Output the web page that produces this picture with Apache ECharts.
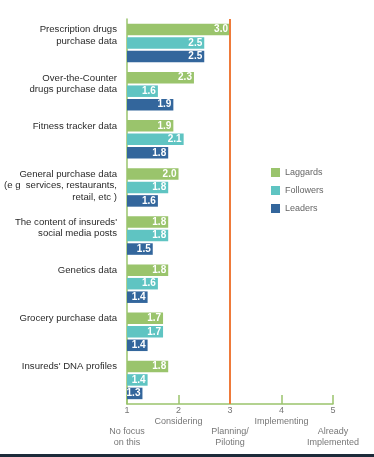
<!DOCTYPE html>
<html>
<head>
<meta charset="utf-8">
<script src="https://cdn.jsdelivr.net/npm/echarts@6/dist/echarts.min.js"></script>
<style>
html,body{margin:0;padding:0;background:#fff;}
#c{width:374px;height:457px;}
</style>
</head>
<body>
<div id="c"></div>
<script>
const categories = [
  'Prescription drugs\npurchase data',
  'Over-the-Counter\ndrugs purchase data',
  'Fitness tracker data',
  'General purchase data\n(e g  services, restaurants,\nretail, etc )',
  "The content of insureds'\nsocial media posts",
  'Genetics data',
  'Grocery purchase data',
  "Insureds' DNA profiles"
];
const laggards  = [3.0, 2.3, 1.9, 2.0, 1.8, 1.8, 1.7, 1.8];
const followers = [2.5, 1.6, 2.1, 1.8, 1.8, 1.6, 1.7, 1.4];
const leaders   = [2.5, 1.9, 1.8, 1.6, 1.5, 1.4, 1.4, 1.3];
const stageNames = ['No focus\non this', 'Considering', 'Planning/\nPiloting', 'Implementing', 'Already\nImplemented'];
const threshold = 3;

const GREEN = '#9ac46c', TEAL = '#5fc4c2', BLUE = '#33669c', ORANGE = '#ee7a3a';

const chart = echarts.init(document.getElementById('c'), null, {renderer: 'canvas'});

function valueLabel() {
  return {
    show: true, position: 'insideRight', distance: 2,
    color: '#fff', fontWeight: 'bold', fontSize: 10,
    fontFamily: 'Liberation Sans, Arial, sans-serif',
    formatter: p => p.value.toFixed(1)
  };
}

const xBase = {type: 'value', min: 1, max: 5, interval: 1, splitLine: {show: false}};

chart.setOption({
  animation: false,
  textStyle: {fontFamily: 'Liberation Sans, Arial, sans-serif'},
  grid: {left: 127, right: 41, top: 19, bottom: 53, containLabel: false, outerBoundsMode: 'none'},
  legend: {
    orient: 'vertical', left: 266, top: 163,
    itemWidth: 9, itemHeight: 9, itemGap: 9, icon: 'rect',
    textStyle: {fontSize: 9, color: '#666'},
    data: ['Laggards', 'Followers', 'Leaders']
  },
  xAxis: [
    Object.assign({}, xBase, {
      axisLine: {show: true, lineStyle: {color: GREEN, width: 1.5}},
      axisTick: {show: true, inside: true, length: 9, lineStyle: {color: GREEN, width: 1.5}},
      axisLabel: {
        margin: 1.5, fontSize: 9, color: '#777', lineHeight: 10.5,
        showMinLabel: true, showMaxLabel: true, hideOverlap: false,
        formatter: v => {
          const i = Math.round(v) - 1;
          return i % 2 === 0 ? v + '\n\n' + stageNames[i] : String(v);
        }
      }
    }),
    Object.assign({}, xBase, {
      position: 'bottom', offset: 0,
      axisLine: {show: false}, axisTick: {show: false},
      axisLabel: {
        margin: 12, fontSize: 9, color: '#777', lineHeight: 10.5,
        showMinLabel: true, showMaxLabel: true, hideOverlap: false,
        formatter: v => {
          const i = Math.round(v) - 1;
          return i % 2 === 1 ? stageNames[i] : '';
        }
      }
    })
  ],
  yAxis: {
    type: 'category', inverse: true, data: categories,
    axisLine: {show: true, lineStyle: {color: GREEN, width: 1.5}},
    axisTick: {show: false},
    axisLabel: {
      interval: 0, margin: 10, fontSize: 9.6, color: '#2b2b2b',
      lineHeight: 11.5, align: 'right', verticalAlign: 'top',
      padding: [-19, 0, 0, 0]
    }
  },
  series: [
    {
      name: 'Laggards', type: 'bar', data: laggards, itemStyle: {color: GREEN},
      barGap: '17%', barCategoryGap: '20%', label: valueLabel(),
      markLine: {
        silent: true, symbol: ['none', 'none'], label: {show: false},
        lineStyle: {color: ORANGE, width: 2, type: 'solid'},
        data: [{xAxis: threshold}], z: 10
      }
    },
    {name: 'Followers', type: 'bar', data: followers, itemStyle: {color: TEAL}, label: valueLabel()},
    {name: 'Leaders', type: 'bar', data: leaders, itemStyle: {color: BLUE}, label: valueLabel()}
  ],
  graphic: [{
    type: 'rect', left: 0, bottom: 0,
    shape: {width: 374, height: 3},
    style: {fill: '#1c2b3a'}
  }]
});
</script>
</body>
</html>
